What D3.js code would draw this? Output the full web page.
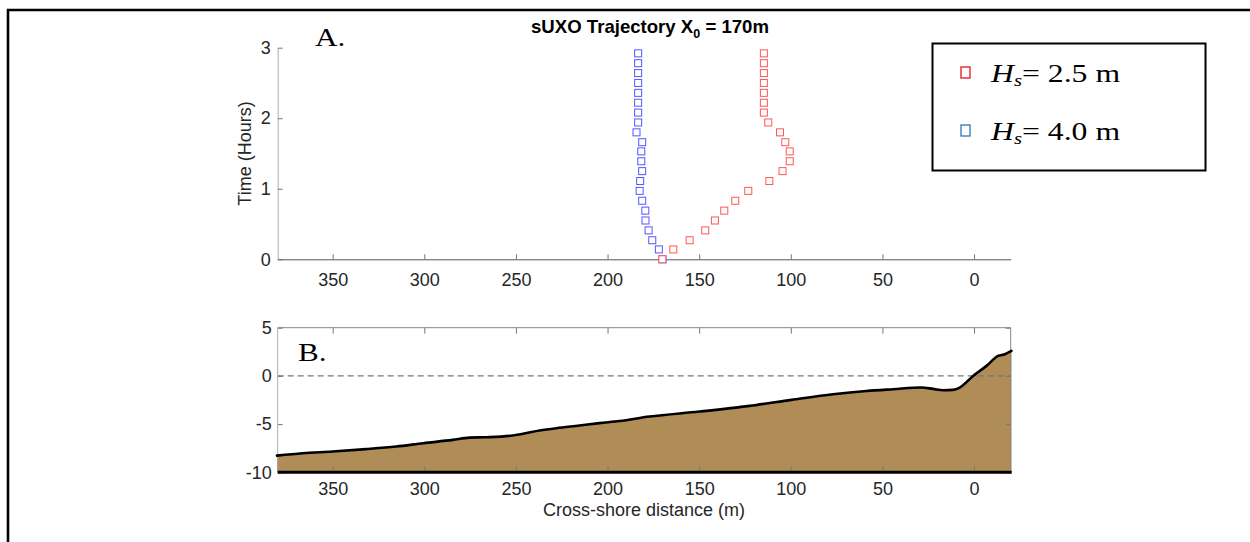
<!DOCTYPE html>
<html>
<head>
<meta charset="utf-8">
<script src="https://cdn.jsdelivr.net/npm/d3@7"></script>
<style>
  html, body { margin: 0; padding: 0; background: #fff; }
  svg { display: block; }
</style>
</head>
<body>
<script>
// ---------- DATA ----------
const timeHours = [0, 0.14, 0.27, 0.41, 0.55, 0.69, 0.83, 0.97, 1.11, 1.25, 1.39, 1.53, 1.66, 1.80, 1.94, 2.08, 2.22, 2.36, 2.50, 2.64, 2.78, 2.92];
const xHs25 = [170.1, 164.1, 155.2, 146.7, 141.4, 136.3, 130.3, 123.2, 111.7, 104.5, 100.6, 100.6, 103.0, 105.9, 112.3, 114.7, 114.7, 114.7, 114.7, 114.7, 114.7, 114.7];
const xHs40 = [170.0, 172.0, 175.6, 177.6, 179.3, 179.4, 181.1, 182.5, 182.2, 181.1, 181.6, 181.6, 181.1, 184.2, 183.3, 183.3, 183.3, 183.3, 183.3, 183.3, 183.3, 183.3];
const profileX = [380.4, 366.4, 350, 331.8, 315.4, 300.5, 284.5, 275.4, 266.2, 251.7, 237.1, 228.0, 215.3, 204.4, 193.5, 177.1, 149.8, 122.5, 99.7, 77.0, 58.8, 44.2, 28.7, 22.4, 16.9, 11.5, 7.8, 0.5, -6.8, -13.1, -16.8, -20.4];
const profileZ = [-8.27, -8.02, -7.85, -7.60, -7.33, -6.98, -6.64, -6.40, -6.36, -6.19, -5.67, -5.43, -5.15, -4.90, -4.68, -4.22, -3.70, -3.11, -2.49, -1.90, -1.56, -1.38, -1.21, -1.35, -1.49, -1.45, -1.21, 0, 1.04, 2.07, 2.25, 2.59];
const xTicks = [350, 300, 250, 200, 150, 100, 50, 0];
const timeTicks = [0, 1, 2, 3];
const depthTicks = [-10, -5, 0, 5];
const legendLabels = ["2.5 m", "4.0 m"];

// ---------- SETUP ----------
const W = 1250, H = 542;
const svg = d3.select("body").append("svg").attr("width", W).attr("height", H)
  .style("font-family", "'Liberation Sans', Arial, sans-serif");
svg.append("rect").attr("width", W).attr("height", H).attr("fill", "#fff");

// outer frame (top + left)
svg.append("path").attr("d", "M8,542 L8,10 L1250,10").attr("fill", "none")
  .attr("stroke", "#000").attr("stroke-width", 2.6);

const x = d3.scaleLinear().domain([380, -20]).range([277.7, 1010.7]);
const yA = d3.scaleLinear().domain([0, 3]).range([259.3, 47.7]);
const yB = d3.scaleLinear().domain([-10, 5]).range([472.3, 327.7]);

const tickColor = "#262626";
const fs = 18;
const plain = d => String(d);
const serif = "'Liberation Serif', 'Times New Roman', serif";

// ---------- PANEL A ----------
const gA = svg.append("g");
const axAx = gA.append("g").attr("transform", `translate(0,${yA(0)})`)
  .call(d3.axisBottom(x).tickValues(xTicks).tickFormat(plain).tickSizeInner(-5).tickSizeOuter(0).tickPadding(14));
const axAy = gA.append("g").attr("transform", `translate(${x(380)},0)`)
  .call(d3.axisLeft(yA).tickValues(timeTicks).tickFormat(plain).tickSizeInner(-5).tickSizeOuter(0).tickPadding(7));
[axAx, axAy].forEach(a => {
  a.selectAll("text").attr("fill", tickColor).style("font-size", fs + "px").style("font-family", "'Liberation Sans', Arial, sans-serif");
  a.selectAll("line").attr("stroke", "#777");
});
axAx.select(".domain").attr("stroke", "#555");
axAy.select(".domain").attr("stroke", "#aaa");

gA.append("text").attr("transform", `translate(251,${(yA(0) + yA(3)) / 2}) rotate(-90)`)
  .attr("text-anchor", "middle").attr("fill", tickColor).style("font-size", fs + "px").text("Time (Hours)");

const title = gA.append("text").attr("x", 650).attr("y", 33).attr("text-anchor", "middle")
  .attr("fill", "#000").style("font-size", "18.6px").style("font-weight", "bold");
title.append("tspan").text("sUXO Trajectory X");
title.append("tspan").attr("dy", 5).style("font-size", "12.5px").text("0");
title.append("tspan").attr("dy", -5).text(" = 170m");

gA.append("text").attr("transform", "translate(315,46) scale(1.2,1)").style("font-family", serif)
  .style("font-size", "26px").attr("fill", "#000").text("A.");

const sq = 7;
const redPts = timeHours.map((t, i) => ({ t, v: xHs25[i] }));
const bluePts = timeHours.map((t, i) => ({ t, v: xHs40[i] }));
gA.append("g").selectAll("rect").data(bluePts).join("rect")
  .attr("x", d => x(d.v) - sq / 2).attr("y", d => yA(d.t) - sq / 2)
  .attr("width", sq).attr("height", sq).attr("fill", "none")
  .attr("stroke", "#5555ff").attr("stroke-width", 1);
gA.append("g").selectAll("rect").data(redPts).join("rect")
  .attr("x", d => x(d.v) - sq / 2).attr("y", d => yA(d.t) - sq / 2)
  .attr("width", sq).attr("height", sq).attr("fill", "#fff")
  .attr("stroke", "#ff5555").attr("stroke-width", 1);

// legend
const lg = svg.append("g");
lg.append("rect").attr("x", 932.5).attr("y", 43.5).attr("width", 273).attr("height", 127)
  .attr("fill", "#fff").attr("stroke", "#000").attr("stroke-width", 2);
const legColors = ["#e8141c", "#2f75b5"];
const legY = [82, 140];
legendLabels.forEach((lab, i) => {
  lg.append("rect").attr("x", 961).attr("y", legY[i] - 15).attr("width", 9).attr("height", 11)
    .attr("fill", "none").attr("stroke", legColors[i]).attr("stroke-width", 1.3);
  const t = lg.append("text").attr("transform", `translate(991,${legY[i]}) scale(1.22,1)`)
    .style("font-family", serif).style("font-size", "26px").attr("fill", "#000");
  t.append("tspan").style("font-style", "italic").text("H");
  t.append("tspan").style("font-style", "italic").style("font-size", "17px").attr("dy", 4).text("s");
  t.append("tspan").attr("dy", -4).text("= " + lab);
});

// ---------- PANEL B ----------
const gB = svg.append("g");
const prof = profileX.map((v, i) => ({ v, z: profileZ[i] }));
gB.append("path").datum(prof)
  .attr("d", d3.area().x(d => x(d.v)).y0(yB(-10)).y1(d => yB(d.z)).curve(d3.curveMonotoneX))
  .attr("fill", "#b08d57");

// frame top/right
gB.append("path").attr("d", `M${x(380)},${yB(5)} L${x(-20)},${yB(5)} L${x(-20)},${yB(-10)}`)
  .attr("fill", "none").attr("stroke", "#888").attr("stroke-width", 1);
// zero dashed
gB.append("line").attr("x1", x(380)).attr("x2", x(-20)).attr("y1", yB(0)).attr("y2", yB(0))
  .attr("stroke", "#777").attr("stroke-width", 1.3).attr("stroke-dasharray", "6,4");

const axBx = gB.append("g").attr("transform", `translate(0,${yB(-10)})`)
  .call(d3.axisBottom(x).tickValues(xTicks).tickFormat(plain).tickSizeInner(-6).tickSizeOuter(0).tickPadding(10));
const axBxTop = gB.append("g").attr("transform", `translate(0,${yB(5)})`)
  .call(d3.axisTop(x).tickValues(xTicks).tickSizeInner(-6).tickSizeOuter(0).tickFormat(""));
const axBy = gB.append("g").attr("transform", `translate(${x(380)},0)`)
  .call(d3.axisLeft(yB).tickValues(depthTicks).tickFormat(plain).tickSizeInner(-5).tickSizeOuter(0).tickPadding(6));
const axByR = gB.append("g").attr("transform", `translate(${x(-20)},0)`)
  .call(d3.axisRight(yB).tickValues(depthTicks).tickSizeInner(-5).tickSizeOuter(0).tickFormat(""));
[axBx, axBxTop, axBy, axByR].forEach(a => {
  a.selectAll("text").attr("fill", tickColor).style("font-size", fs + "px").style("font-family", "'Liberation Sans', Arial, sans-serif");
  a.selectAll("line").attr("stroke", "#777");
  a.select(".domain").attr("stroke", "none");
});
gB.append("line").attr("x1", x(380)).attr("x2", x(380)).attr("y1", yB(5)).attr("y2", yB(-10))
  .attr("stroke", "#aaa").attr("stroke-width", 1);

gB.append("path").datum(prof)
  .attr("d", d3.line().x(d => x(d.v)).y(d => yB(d.z)).curve(d3.curveMonotoneX))
  .attr("fill", "none").attr("stroke", "#000").attr("stroke-width", 2.6).attr("stroke-linejoin", "round").attr("stroke-linecap", "round");
gB.append("line").attr("x1", x(380)).attr("x2", x(-20) + 1).attr("y1", yB(-10)).attr("y2", yB(-10))
  .attr("stroke", "#000").attr("stroke-width", 3);

gB.append("text").attr("transform", "translate(298,361) scale(1.2,1)").style("font-family", serif)
  .style("font-size", "26px").attr("fill", "#000").text("B.");

gB.append("text").attr("x", 644).attr("y", 516).attr("text-anchor", "middle").attr("fill", tickColor)
  .style("font-size", fs + "px").text("Cross-shore distance (m)");
</script>
</body>
</html>
